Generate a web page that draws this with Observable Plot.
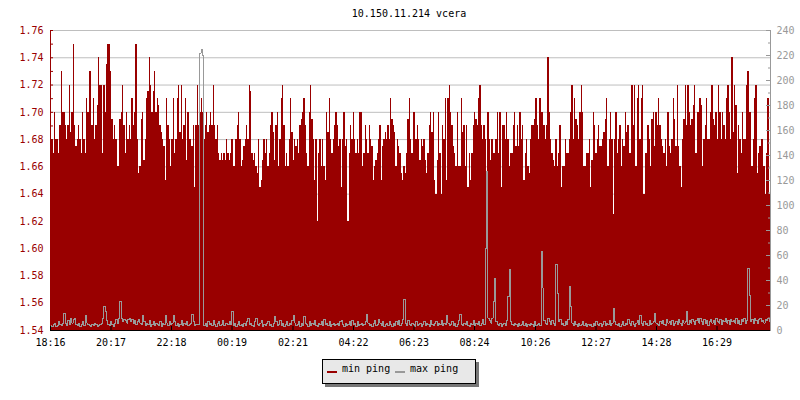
<!DOCTYPE html>
<html><head><meta charset="utf-8">
<script src="https://cdn.jsdelivr.net/npm/d3@7"></script>
<script src="https://cdn.jsdelivr.net/npm/@observablehq/plot@0.6"></script>
<style>
body{margin:0;background:#fff;}
#wrap{position:relative;width:800px;height:400px;font-family:'DejaVu Sans Mono',monospace;font-size:10px;color:#000;}
#title{position:absolute;left:0;width:818px;top:8px;line-height:12px;text-align:center;}
#chart{position:absolute;left:0;top:0;}
#legend{position:absolute;left:322px;top:359px;width:154px;height:25px;box-sizing:border-box;background:#e8e8e8;border:1px solid #000;box-shadow:3px 3px 0 #777;}
#legend .mk{position:absolute;top:11px;width:10px;height:2px;}
#legend .tx{position:absolute;top:2.5px;line-height:12px;white-space:pre;}
</style></head>
<body><div id="wrap">
<div id="title">10.150.11.214 vcera</div>
<div id="chart"></div>
<div id="legend">
<span class="mk" style="left:4px;background:#990000"></span><span class="tx" style="left:19px">min ping</span>
<span class="mk" style="left:72px;background:#999999"></span><span class="tx" style="left:87px">max ping</span>
</div>
</div>
<script>
const xLabels = ["18:16","20:17","22:18","00:19","02:21","04:22","06:23","08:24","10:26","12:27","14:28","16:29"];
const leftTicks = [1.54,1.56,1.58,1.60,1.62,1.64,1.66,1.68,1.70,1.72,1.74,1.76];
const leftMinor = [1.55,1.57,1.59,1.61,1.63,1.65,1.67,1.69,1.71,1.73,1.75];
const rightTicks = [0,20,40,60,80,100,120,140,160,180,200,220,240];
const rightMinor = [10,30,50,70,90,110,130,150,170,190,210,230];

const minPing = [
1.67,1.68,1.67,1.70,1.68,1.68,1.67,1.69,1.73,1.70,
1.70,1.69,1.68,1.69,1.72,1.685,1.70,1.75,1.69,1.675,
1.68,1.69,1.68,1.67,1.70,1.68,1.67,1.71,1.70,1.73,
1.73,1.69,1.71,1.68,1.69,1.705,1.74,1.72,1.72,1.67,
1.72,1.70,1.735,1.75,1.75,1.73,1.695,1.68,1.69,1.68,
1.66,1.66,1.695,1.70,1.72,1.69,1.67,1.70,1.68,1.69,
1.68,1.71,1.69,1.70,1.75,1.68,1.655,1.66,1.695,1.70,
1.665,1.68,1.71,1.715,1.74,1.72,1.70,1.715,1.73,1.70,
1.71,1.705,1.69,1.685,1.68,1.675,1.65,1.71,1.69,1.68,
1.66,1.68,1.71,1.67,1.68,1.71,1.72,1.685,1.72,1.68,
1.69,1.71,1.665,1.70,1.68,1.68,1.675,1.69,1.645,1.69,
1.72,1.69,1.70,1.71,1.70,1.68,1.69,1.70,1.685,1.69,
1.70,1.69,1.72,1.69,1.68,1.69,1.67,1.665,1.67,1.665,
1.67,1.665,1.68,1.67,1.665,
1.67,1.68,1.66,1.66,1.68,1.69,1.70,1.68,1.66,1.665,
1.675,1.68,1.69,1.68,1.72,1.715,1.67,1.665,1.67,1.66,
1.655,1.68,1.645,1.65,1.665,1.68,1.67,1.68,1.66,1.67,
1.69,1.70,1.685,1.665,1.69,1.70,1.66,1.68,1.71,1.72,
1.69,1.66,1.67,1.66,1.68,1.71,1.685,1.665,1.68,1.675,
1.68,1.67,1.69,1.695,1.70,1.71,1.69,1.67,1.66,1.70,
1.72,1.695,1.68,1.65,1.68,1.62,1.67,1.68,1.66,1.68,
1.66,1.65,1.70,1.685,1.71,1.68,1.67,1.68,1.69,1.70,
1.69,1.675,1.68,1.645,1.68,1.70,1.675,1.68,1.62,1.67,
1.69,1.68,1.70,1.68,1.67,1.68,1.67,1.70,1.70,1.66,
1.67,1.69,1.68,1.67,1.69,1.68,1.675,1.65,1.66,
1.665,1.67,1.68,1.69,1.65,1.675,1.68,1.685,1.68,1.69,
1.68,1.71,1.695,1.69,1.685,1.66,1.68,1.675,1.67,1.655,
1.65,1.66,1.655,1.67,1.695,1.71,
1.68,1.67,1.70,1.70,1.68,1.69,1.68,1.665,
1.68,1.675,1.68,1.665,1.655,1.67,1.69,1.70,
1.685,1.70,1.65,1.64,1.665,1.70,1.67,1.64,1.69,
1.68,1.71,1.65,1.71,1.72,1.70,1.69,1.675,1.67,
1.66,1.70,1.66,1.66,1.71,1.685,1.69,1.66,
1.69,1.645,1.67,1.65,1.67,1.69,1.70,1.695,
1.69,1.71,1.72,1.69,1.68,1.69,1.68,1.655,1.70,1.68,
1.665,1.68,1.67,1.67,1.68,1.70,1.67,1.70,1.645,1.69,
1.69,1.68,1.70,1.68,1.66,1.67,1.67,1.69,1.70,1.675,
1.69,1.675,1.70,1.68,1.69,1.65,1.67,1.68,1.66,1.655,
1.68,1.69,1.69,1.695,1.71,1.69,1.68,1.71,1.70,1.70,
1.69,1.68,1.69,1.74,1.70,1.68,1.67,1.665,1.66,1.68,
1.66,1.67,1.69,1.645,1.66,1.66,1.68,1.67,1.67,1.68,
1.70,1.72,1.68,1.71,1.695,1.69,1.68,1.70,1.72,1.70,
1.66,1.66,1.67,1.67,1.68,
1.645,1.665,1.70,1.69,1.67,1.68,1.69,1.675,1.675,
1.68,1.685,1.695,1.71,1.66,1.68,1.70,1.68,1.625,
1.68,1.70,1.67,1.68,1.69,1.66,1.68,1.675,1.70,
1.685,1.69,1.67,1.67,1.72,1.69,1.72,1.66,1.71,
1.72,1.68,1.71,1.72,1.64,1.67,1.67,1.69,1.68,
1.66,1.695,1.70,1.675,1.70,1.69,1.71,1.69,1.68,
1.675,1.67,1.68,1.66,1.70,1.675,1.67,1.68,1.71,
1.695,1.675,1.72,1.675,1.66,1.645,1.68,1.695,1.72,
1.69,1.72,1.70,1.69,1.695,1.705,1.72,1.67,1.70,
1.70,1.71,1.705,1.66,1.68,1.69,1.71,1.68,1.68,
1.70,1.72,1.695,1.69,1.70,1.68,1.72,1.70,1.68,
1.70,1.69,1.68,1.71,1.72,1.70,1.68,1.74,1.685,
1.72,1.705,1.655,1.69,1.68,1.67,1.70,1.68,1.68,
1.72,1.73,1.70,1.70,1.66,1.68,1.71,1.72,1.655,
1.67,1.675,1.68,1.68,1.66,1.64,1.67,1.71,1.64
];

const maxPing = [
4,3,5,6,3,4,7,5,4,6, 14,6,4,8,5,10,6,9,10,5, 4,6,3,5,7,4,12,6,5,4, 3,5,4,6,5,3,4,5,6,10,
19,15,8,5,4,7,5,3,6,9, 6,10,23,10,7,9,8,6,9,10, 7,9,6,8,5,7,9,6,5,12, 7,4,6,5,8,3,5,7,4,6,
5,4,7,3,6,5,12,6,4,7, 5,6,12,7,4,6,3,5,8,4, 6,5,7,4,5,6,13,7,4,5, 5,5,222,225,220,4,6,3,7,5,
6,4,8,5,3,6,7,4,5,8, 4,6,6,5,7,
5,15,4,6,3,5,7,4,5,3, 6,4,7,10,5,6,4,3,7,10, 5,4,6,8,3,5,4,6,7,4, 5,3,6,11,7,4,5,8,4,6,
3,5,7,4,6,5,8,12,6,4, 5,7,3,6,4,11,6,5,3,7, 4,6,5,8,4,3,6,5,7,4, 9,5,6,4,7,3,5,6,4,5,
6,4,7,8,5,3,6,4,5,7, 4,8,5,6,3,7,4,5,6,4, 5,7,13,6,4,5,3,6,8,4, 5,9,6,4,7,3,5,6,4,7,
5,3,6,4,7,5,8,4,6,9, 25,6,4,8,5,
4,6,5,3,7,4,5,6,3,5, 7,4,6,5,3,8,5,4,6,7, 4,6,5,8,4,6,5,12,6,4, 5,7,4,6,3,5,8,13,5,4,
6,5,7,4,3,6,5,8,4,6, 5,7,4,6,9,5,66,127,10,8, 6,10,23,42,7,5,4,6,3,5, 6,4,8,27,49,7,5,4,6,5,
3,6,4,5,7,4,6,3,5,4, 6,5,3,7,4,5,6,4,63,34, 8,6,5,10,7,5,8,6,4,53, 30,7,9,5,6,4,7,5,9,35,
19,6,4,7,5,3,6,4,5,7, 4,6,3,5,4,
5,3,6,4,7,5,4,6,3,5, 7,4,6,5,8,4,6,18,7,5, 4,6,3,5,7,4,6,5,9,6, 4,7,5,3,6,8,5,12,6,4,
7,5,6,4,8,5,6,7,14,6, 5,4,7,6,8,5,4,9,6,7, 5,8,4,6,7,5,9,6,4,8, 6,7,15,5,8,6,9,7,5,8,
10,6,10,7,5,9,6,8,4,7, 9,6,8,5,10,7,6,9,5,8, 7,10,6,8,5,9,7,8,6,10, 6,8,5,9,7,10,6,8,50,28,
7,9,6,10,8,6,9,10,7,8, 6,9,8,10,7
];

const base = Date.UTC(2024, 0, 1);
function labelTime(s) {
  const [h, m] = s.split(":").map(Number);
  let t = base + (h * 60 + m) * 60000;
  if (h < 18) t += 86400000;
  return new Date(t);
}
const xTicks = xLabels.map(labelTime);
const labelMap = new Map(xTicks.map((d, i) => [+d, xLabels[i]]));
const t0 = xTicks[0];
const t1 = new Date(+t0 + 86400000);
const n = Math.min(minPing.length, maxPing.length);
const step = 86400000 / n;
const toLeft = v => 1.54 + v * 0.22 / 240;
const fromLeft = d => Math.round((d - 1.54) * 240 / 0.22);
const table = [];
for (let i = 0; i < n; i++) table.push({t: new Date(+t0 + i * step), min: minPing[i], maxY: toLeft(maxPing[i])});
table.push({t: t1, min: minPing[n - 1], maxY: toLeft(maxPing[n - 1])});

const chart = Plot.plot({
  width: 800, height: 360,
  marginLeft: 50, marginRight: 30, marginTop: 30, marginBottom: 30,
  style: {fontFamily: "'DejaVu Sans Mono', monospace", fontSize: "10px", background: "transparent", overflow: "visible"},
  x: {type: "utc", domain: [t0, t1], axis: null, label: null},
  y: {domain: [1.54, 1.76], axis: null, label: null},
  marks: [
    Plot.ruleY(leftTicks.slice(1), {stroke: "#bebebe", strokeWidth: 1}),
    Plot.areaY(table, {x: "t", y1: 1.54, y2: "min", curve: "step-after", fill: "#990000", shapeRendering: "crispEdges"}),
    Plot.line(table, {x: "t", y: "maxY", curve: "step-after", stroke: "#999999", strokeWidth: 1, shapeRendering: "crispEdges"}),
    Plot.axisY({anchor: "left", ticks: [...leftTicks, ...leftMinor], tickSize: -3, tickFormat: () => "", stroke: "#990000", label: null}),
    Plot.axisY({anchor: "left", ticks: leftTicks, tickSize: 0, tickPadding: 7, tickFormat: d3.format(".2f"), fill: "#990000", label: null}),
    Plot.ruleX([t0], {stroke: "#990000"}),
    Plot.axisY({anchor: "right", ticks: rightTicks.map(toLeft), tickSize: -5, tickFormat: () => "", stroke: "#999999", label: null}),
    Plot.axisY({anchor: "right", ticks: rightMinor.map(toLeft), tickSize: -3, tickFormat: () => "", stroke: "#999999", label: null}),
    Plot.axisY({anchor: "right", ticks: rightTicks.map(toLeft), tickSize: 0, tickPadding: 6, tickFormat: d => String(fromLeft(d)), fill: "#999999", label: null}),
    Plot.ruleX([t1], {stroke: "#999999"}),
    Plot.axisX({anchor: "bottom", ticks: xTicks, tickSize: -4, tickFormat: () => "", stroke: "#000", label: null}),
    Plot.axisX({anchor: "bottom", ticks: xTicks, tickSize: 0, tickPadding: 8, tickFormat: d => labelMap.get(+d), fill: "#000", label: null}),
    Plot.ruleY([1.54], {stroke: "#000"})
  ]
});
document.getElementById("chart").appendChild(chart);
</script>
</body></html>
